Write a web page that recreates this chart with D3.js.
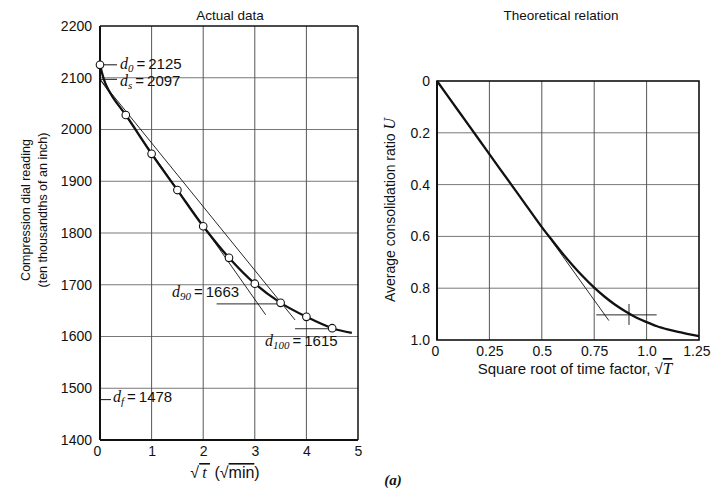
<!DOCTYPE html>
<html><head><meta charset="utf-8">
<script src="https://cdn.jsdelivr.net/npm/d3@7/dist/d3.min.js"></script>
<style>
html,body{margin:0;padding:0;background:#fff;}
svg{display:block;}
text{font-family:"Liberation Sans",Arial,sans-serif;fill:#111;}
.it{font-family:"Liberation Serif","DejaVu Serif",serif;font-style:italic;}
</style></head>
<body>
<script>
// ---------- Left panel: actual data ----------
const leftXTicks = [0, 1, 2, 3, 4, 5];
const leftYTicks = [1400, 1500, 1600, 1700, 1800, 1900, 2000, 2100, 2200];
const sqrtTime = [0, 0.5, 1, 1.5, 2, 2.5, 3, 3.5, 4, 4.5];
const dialReading = [2125, 2028, 1953, 1883, 1813, 1752, 1702, 1665, 1638, 1616];
const curveSqrtTime = [0, 0.1, 0.25, 0.5, 1, 1.5, 2, 2.5, 3, 3.5, 4, 4.5, 4.88];
const curveReading = [2125, 2090, 2062, 2028, 1953, 1883, 1813, 1752, 1702, 1665, 1638, 1616, 1607];
const tangentX = [0, 3.21];
const tangentY = [2097, 1642];
const tangent115X = [0, 3.78];
const tangent115Y = [2097, 1632];
const d90LineX = [2.26, 3.5];
const d100LineX = [3.78, 4.5];
const d0 = 2125, ds = 2097, d90 = 1663, d100 = 1615, df = 1478;

// ---------- Right panel: theoretical relation ----------
const rightXTicks = [0, 0.25, 0.5, 0.75, 1.0, 1.25];
const rightXLabels = ["0", "0.25", "0.5", "0.75", "1.0", "1.25"];
const rightYTicks = [0, 0.2, 0.4, 0.6, 0.8, 1.0];
const rightYLabels = ["0", "0.2", "0.4", "0.6", "0.8", "1.0"];
const sqrtT = [0, 0.1, 0.2, 0.3, 0.4, 0.5, 0.55, 0.6, 0.65, 0.7, 0.75, 0.8, 0.85, 0.9, 0.95, 1.0, 1.05, 1.1, 1.15, 1.2, 1.25];
const ratioU = [0, 0.113, 0.226, 0.339, 0.451, 0.564, 0.616, 0.667, 0.714, 0.758, 0.798, 0.833, 0.864, 0.890, 0.913, 0.931, 0.947, 0.959, 0.969, 0.977, 0.985];
const theoTangentX = [0, 0.82];
const theoTangentU = [0, 0.925];
const crossHX = [0.76, 1.048], crossHU = 0.903;
const crossVX = 0.916, crossVU = [0.861, 0.942];

const W = 711, H = 488;
const svg = d3.select("body").append("svg").attr("width", W).attr("height", H);
const SANS = "Liberation Sans, Arial, sans-serif";

// ===== Left chart =====
const xL = d3.scaleLinear().domain([0, 5]).range([100, 358]);
const yL = d3.scaleLinear().domain([1400, 2200]).range([440, 26]);
const gL = svg.append("g");

gL.selectAll("line.vg").data(leftXTicks.slice(1, -1)).join("line")
  .attr("x1", d => xL(d)).attr("x2", d => xL(d)).attr("y1", yL(2200)).attr("y2", yL(1400))
  .attr("stroke", "#444").attr("stroke-width", 0.9);
gL.selectAll("line.hg").data(leftYTicks.slice(1, -1)).join("line")
  .attr("x1", xL(0)).attr("x2", xL(5)).attr("y1", d => yL(d)).attr("y2", d => yL(d))
  .attr("stroke", "#555").attr("stroke-width", 0.8);

// frame
gL.append("line").attr("x1", xL(0)).attr("x2", xL(5)).attr("y1", yL(2200)).attr("y2", yL(2200)).attr("stroke", "#111").attr("stroke-width", 1.3);
gL.append("line").attr("x1", xL(5)).attr("x2", xL(5)).attr("y1", yL(2200)).attr("y2", yL(1400)).attr("stroke", "#111").attr("stroke-width", 1.5);
gL.append("line").attr("x1", xL(0)).attr("x2", xL(0)).attr("y1", yL(2200)).attr("y2", yL(1400)).attr("stroke", "#111").attr("stroke-width", 2);
gL.append("line").attr("x1", xL(0)).attr("x2", xL(5)).attr("y1", yL(1400)).attr("y2", yL(1400)).attr("stroke", "#111").attr("stroke-width", 2);

// axes (labels only)
const axL = gL.append("g").attr("transform", `translate(${xL(0)},0)`)
  .call(d3.axisLeft(yL).tickValues(leftYTicks).tickSize(0).tickPadding(8).tickFormat(d3.format("d")));
axL.select(".domain").remove();
axL.selectAll("text").attr("font-size", 14).attr("font-family", SANS).attr("fill", "#111");
const axLB = gL.append("g").attr("transform", `translate(0,${yL(1400)})`)
  .call(d3.axisBottom(xL).tickValues(leftXTicks).tickSize(0).tickPadding(6).tickFormat(d3.format("d")));
axLB.select(".domain").remove();
axLB.selectAll("text").attr("font-size", 14).attr("font-family", SANS).attr("fill", "#111");
axLB.selectAll("text").filter(d => d === 0).attr("dx", -3);

// thin construction lines
const lineL = d3.line().x(d => xL(d[0])).y(d => yL(d[1]));
gL.append("path").attr("d", lineL(d3.zip(tangentX, tangentY))).attr("fill", "none").attr("stroke", "#111").attr("stroke-width", 0.9);
gL.append("path").attr("d", lineL(d3.zip(tangent115X, tangent115Y))).attr("fill", "none").attr("stroke", "#111").attr("stroke-width", 0.9);
gL.append("path").attr("d", lineL(d90LineX.map(x => [x, d90]))).attr("fill", "none").attr("stroke", "#111").attr("stroke-width", 0.9);
gL.append("path").attr("d", lineL(d100LineX.map(x => [x, d100]))).attr("fill", "none").attr("stroke", "#111").attr("stroke-width", 0.9);
// leader dashes
gL.append("line").attr("x1", xL(0)).attr("x2", xL(0) + 17).attr("y1", yL(d0)).attr("y2", yL(d0)).attr("stroke", "#111").attr("stroke-width", 1);
gL.append("line").attr("x1", xL(0)).attr("x2", xL(0) + 17).attr("y1", yL(ds)).attr("y2", yL(ds)).attr("stroke", "#111").attr("stroke-width", 1);
gL.append("line").attr("x1", xL(0)).attr("x2", xL(0) + 11).attr("y1", yL(df)).attr("y2", yL(df)).attr("stroke", "#111").attr("stroke-width", 1);

// thick curve
const curveL = d3.line().x(d => xL(d[0])).y(d => yL(d[1])).curve(d3.curveCatmullRom.alpha(0.5));
gL.append("path").attr("d", curveL(d3.zip(curveSqrtTime, curveReading))).attr("fill", "none").attr("stroke", "#111").attr("stroke-width", 2.3);

// data points
gL.selectAll("circle.pt").data(d3.zip(sqrtTime, dialReading)).join("circle")
  .attr("cx", d => xL(d[0])).attr("cy", d => yL(d[1])).attr("r", 3.8)
  .attr("fill", "#fff").attr("stroke", "#111").attr("stroke-width", 1.1);

// annotation labels
function dLabel(g, x, y, sub, val) {
  const t = g.append("text").attr("x", x).attr("y", y).attr("font-size", 15);
  t.append("tspan").attr("class", "it").attr("font-size", 16).text("d");
  t.append("tspan").attr("class", "it").attr("font-size", 11).attr("dy", 3).text(sub);
  t.append("tspan").attr("dy", -3).text("\u2009=\u2009" + val);
}
dLabel(gL, 120, 69, "0", d0);
dLabel(gL, 120, 86, "s", ds);
dLabel(gL, 172, 297, "90", d90);
dLabel(gL, 265, 346, "100", d100);
dLabel(gL, 113, 402, "f", df);

// titles and axis labels
svg.append("text").attr("x", 230).attr("y", 20).attr("text-anchor", "middle").attr("font-size", 13.5).text("Actual data");
svg.append("text").attr("transform", "translate(29.5,210) rotate(-90)").attr("text-anchor", "middle").attr("font-size", 12.5).text("Compression dial reading");
svg.append("text").attr("transform", "translate(46.5,210) rotate(-90)").attr("text-anchor", "middle").attr("font-size", 12.5).text("(ten thousandths of an inch)");
const xl = svg.append("text").attr("x", 225).attr("y", 478).attr("text-anchor", "middle").attr("font-size", 16);
xl.append("tspan").text("\u221A");
xl.append("tspan").attr("class", "it").attr("text-decoration", "overline").text("\u2009t\u2009");
xl.append("tspan").text("  (\u221A");
xl.append("tspan").attr("text-decoration", "overline").text("min");
xl.append("tspan").text(")");

// ===== Right chart =====
const xR = d3.scaleLinear().domain([0, 1.25]).range([437, 699]);
const yR = d3.scaleLinear().domain([0, 1]).range([81, 340]);
const gR = svg.append("g");
gR.selectAll("line.vg").data(rightXTicks.slice(1, -1)).join("line")
  .attr("x1", d => xR(d)).attr("x2", d => xR(d)).attr("y1", yR(0)).attr("y2", yR(1))
  .attr("stroke", "#444").attr("stroke-width", 0.9);
gR.selectAll("line.hg").data(rightYTicks.slice(1, -1)).join("line")
  .attr("x1", xR(0)).attr("x2", xR(1.25)).attr("y1", d => yR(d)).attr("y2", d => yR(d))
  .attr("stroke", "#555").attr("stroke-width", 0.8);
gR.append("rect").attr("x", xR(0)).attr("y", yR(0)).attr("width", xR(1.25) - xR(0)).attr("height", yR(1) - yR(0))
  .attr("fill", "none").attr("stroke", "#111").attr("stroke-width", 1.6);
gR.append("line").attr("x1", xR(0)).attr("x2", xR(0)).attr("y1", yR(0)).attr("y2", yR(1)).attr("stroke", "#111").attr("stroke-width", 2);

const axR = gR.append("g").attr("transform", `translate(${xR(0)},0)`)
  .call(d3.axisLeft(yR).tickValues(rightYTicks).tickSize(0).tickPadding(7).tickFormat((d, i) => rightYLabels[i]));
axR.select(".domain").remove();
axR.selectAll("text").attr("font-size", 14).attr("font-family", SANS).attr("fill", "#111");
const axRB = gR.append("g").attr("transform", `translate(0,${yR(1)})`)
  .call(d3.axisBottom(xR).tickValues(rightXTicks).tickSize(0).tickPadding(6).tickFormat((d, i) => rightXLabels[i]));
axRB.select(".domain").remove();
axRB.selectAll("text").attr("font-size", 14).attr("font-family", SANS).attr("fill", "#111");
axRB.selectAll("text").filter(d => d === 1.25).attr("text-anchor", "end").attr("dx", 11);
axRB.selectAll("text").filter(d => d === 0).attr("dx", -2);

const lineR = d3.line().x(d => xR(d[0])).y(d => yR(d[1]));
gR.append("path").attr("d", lineR(d3.zip(theoTangentX, theoTangentU))).attr("fill", "none").attr("stroke", "#111").attr("stroke-width", 0.9);
gR.append("path").attr("d", lineR(crossHX.map(x => [x, crossHU]))).attr("fill", "none").attr("stroke", "#111").attr("stroke-width", 0.9);
gR.append("path").attr("d", lineR(crossVU.map(u => [crossVX, u]))).attr("fill", "none").attr("stroke", "#111").attr("stroke-width", 0.9);
gR.append("path").attr("d", lineR.curve(d3.curveMonotoneX)(d3.zip(sqrtT, ratioU))).attr("fill", "none").attr("stroke", "#111").attr("stroke-width", 2.3);

svg.append("text").attr("x", 561).attr("y", 20).attr("text-anchor", "middle").attr("font-size", 13.5).text("Theoretical relation");
const yrl = svg.append("text").attr("transform", "translate(395,210) rotate(-90)").attr("text-anchor", "middle").attr("font-size", 14);
yrl.append("tspan").text("Average consolidation ratio ");
yrl.append("tspan").attr("class", "it").attr("font-size", 16).text("U");
const xrl = svg.append("text").attr("x", 575).attr("y", 374).attr("text-anchor", "middle").attr("font-size", 15);
xrl.append("tspan").text("Square root of time factor, \u221A");
xrl.append("tspan").attr("class", "it").attr("font-size", 17).attr("text-decoration", "overline").text("T");

svg.append("text").attr("x", 393).attr("y", 485).attr("text-anchor", "middle").attr("class", "it")
  .attr("font-size", 15).attr("font-weight", "bold").text("(a)");
</script>
</body></html>
